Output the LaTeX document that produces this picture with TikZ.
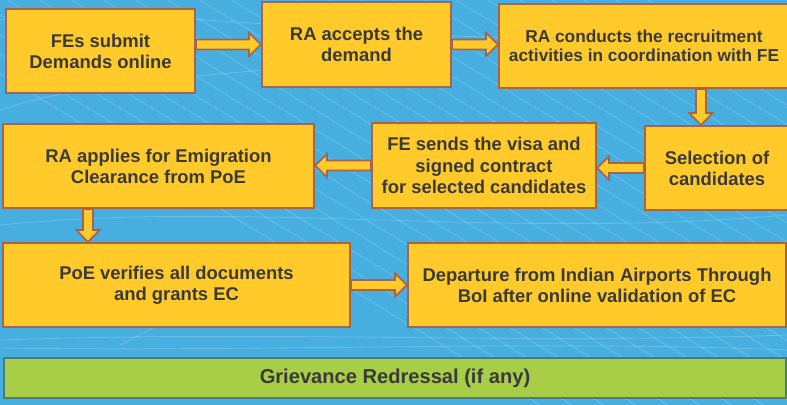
\documentclass[tikz,border=0pt]{standalone}
\usepackage{fontspec}
\setmainfont{Liberation Sans}
\usetikzlibrary{calc}

\definecolor{bgblue}{HTML}{47AEE0}
\definecolor{boxyellow}{HTML}{FFCA2A}
\definecolor{boxbrown}{HTML}{A8644A}
\definecolor{bargreen}{HTML}{A8CE48}
\definecolor{baredge}{HTML}{4F7A7A}
\definecolor{txtgray}{HTML}{3A3A3A}

\tikzset{
  stepbox/.style={draw=boxbrown, fill=boxyellow, line width=1.4pt, text=txtgray,
    align=center, inner sep=2pt, minimum height=2.1cm,
    font=\bfseries\fontsize{13.1}{15}\selectfont},
  flowline/.style={draw=boxbrown, fill=boxyellow, line width=1.2pt, line join=miter},
  bgline/.style={white, opacity=0.2, line width=0.6pt},
}

% block arrow from #1 to #2 (tip at #2)
\newcommand{\flowarrow}[2]{%
  \coordinate (ah) at ($(#2)!0.3cm!(#1)$);
  \draw[flowline] ($(#1)!0.125cm!90:(#2)$) -- ($(ah)!0.125cm!90:(#2)$)
    -- ($(ah)!0.29cm!90:(#2)$) -- (#2) -- ($(ah)!0.29cm!-90:(#2)$)
    -- ($(ah)!0.125cm!-90:(#2)$) -- ($(#1)!0.125cm!-90:(#2)$) -- cycle;
}

\begin{document}
\begin{tikzpicture}[x=0.025cm, y=-0.025cm] % 1 unit = 1 px, y downwards

%HINTERGRUND
\fill[bgblue] (0,0) rectangle (787,405);
\useasboundingbox (0,0) rectangle (787,405);
\foreach \i in {0,...,24}
  \draw[bgline] (\i*32-120,0) -- ++(660,405);
\draw[bgline] (0,20) .. controls (200,0) and (420,60) .. (787,30);
\draw[bgline] (0,110) .. controls (150,60) and (400,80) .. (600,20);
\draw[bgline] (0,225) .. controls (250,200) and (500,240) .. (787,215);
\draw[bgline] (0,340) .. controls (300,330) and (500,345) .. (787,335);
\draw[bgline] (0,348) .. controls (250,352) and (550,340) .. (787,350);
\draw[bgline] (120,345) .. controls (170,320) and (200,300) .. (240,280);

%ROW NR. 0 (from top)
\node[stepbox, minimum width=4.725cm] (fes) at (100.5,51) {FEs submit\\Demands online};
\node[stepbox, minimum width=4.725cm, minimum height=2.125cm] (ra) at (356.5,44.5) {RA accepts the\\demand};
\node[stepbox, minimum width=7.25cm, font=\bfseries\fontsize{12.3}{13.5}\selectfont] (rac) at (644,46)
  {RA conducts the recruitment\\activities in coordination with FE};

%ROW NR. 1 (from top)
\node[stepbox, minimum width=3.6cm] (sel) at (717,168) {Selection of\\candidates};
\node[stepbox, minimum width=5.6cm, minimum height=2.125cm] (fesends) at (484,165.5)
  {FE sends the visa and\\signed contract\\for selected candidates};
\node[stepbox, minimum width=7.775cm] (raapp) at (158.5,166) {RA applies for Emigration\\Clearance from PoE};

%ROW NR. 2 (from top)
\node[stepbox, minimum width=8.675cm] (poe) at (176.5,285) {PoE verifies all documents\\and grants EC};
\node[stepbox, minimum width=9.45cm] (dep) at (597,285)
  {Departure from Indian Airports Through\\BoI after online validation of EC};

%ROW NR. 3 (from top)
\node[draw=baredge, fill=bargreen, line width=1.4pt, text=txtgray, minimum width=19.55cm,
  minimum height=1.0cm, font=\bfseries\fontsize{14.3}{16}\selectfont] (grv) at (395,378)
  {Grievance Redressal (if any)};

%PFEILE
\flowarrow{fes.east |- ra.west}{ra.west}
\flowarrow{ra.east}{rac.west |- ra.east}
\coordinate (c3) at ($(rac.south west)+(203,0)$);
\flowarrow{c3}{c3 |- sel.north}
\flowarrow{sel.west}{fesends.east |- sel.west}
\flowarrow{fesends.west}{raapp.east |- fesends.west}
\coordinate (c6) at ($(raapp.south west)+(86,0)$);
\flowarrow{c6}{c6 |- poe.north}
\flowarrow{poe.east}{dep.west}

\end{tikzpicture}
\end{document}
